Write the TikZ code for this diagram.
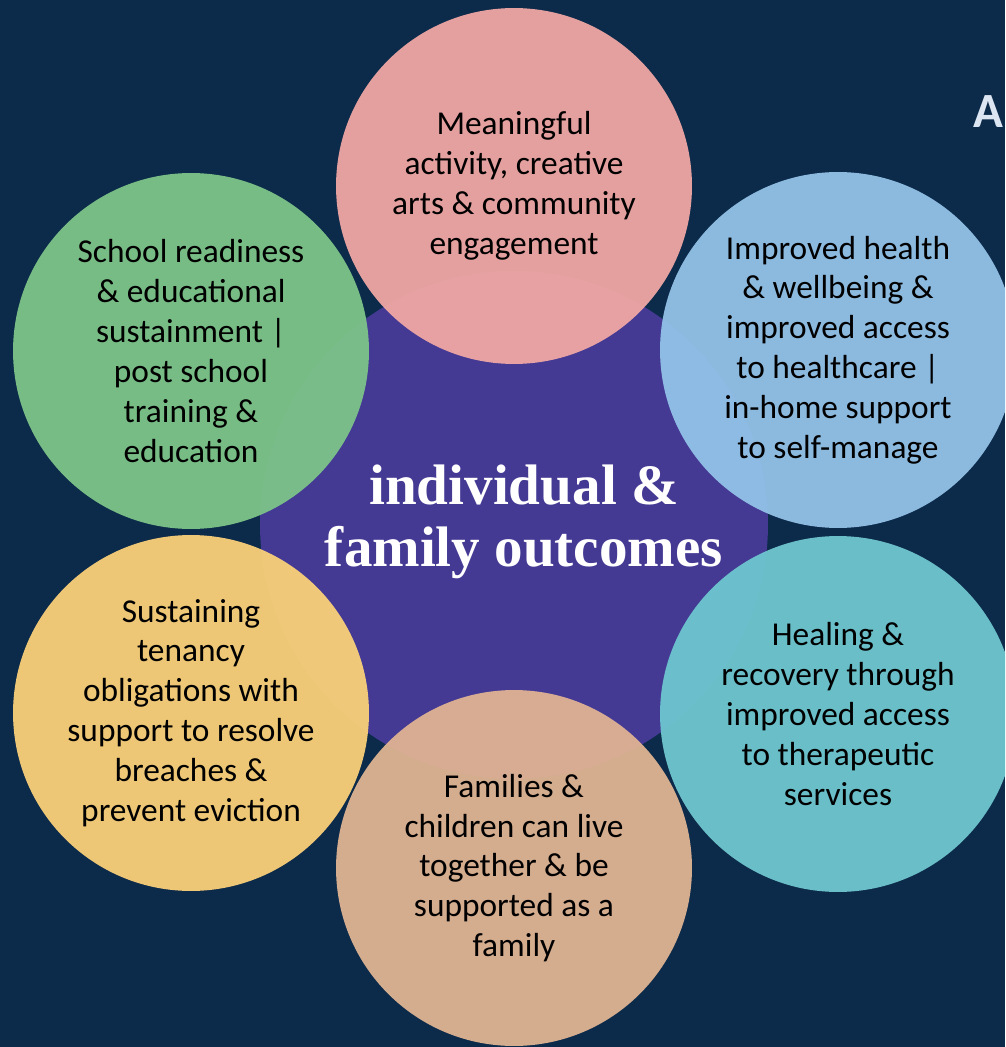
\documentclass[tikz,border=0pt]{standalone}
\usepackage{fontspec}
\setmainfont{Carlito}
\newfontfamily\titlefont{Liberation Serif}
\definecolor{backdrop}{HTML}{0C2A4A}
\definecolor{corefill}{HTML}{443A94}
\definecolor{rosefill}{HTML}{F0A7A4}
\definecolor{skyfill}{HTML}{93C2E8}
\definecolor{aquafill}{HTML}{6EC6CF}
\definecolor{sandfill}{HTML}{DFB392}
\definecolor{goldfill}{HTML}{FAD079}
\definecolor{leaffill}{HTML}{7DC489}
\definecolor{letterfill}{HTML}{DCE6F2}
\begin{document}
\begin{tikzpicture}[x=0.02cm, y=-0.02cm,
    outcome/.style={circle, minimum size=7.12cm, inner sep=0pt, fill opacity=0.95, text opacity=1,
      align=center, text=black, font=\fontsize{19}{22.7}\selectfont}]
        \useasboundingbox (0,0) rectangle (1005,1047);
        \clip (0,0) rectangle (1005,1047);
        \fill[backdrop] (0,0) rectangle (1005,1047);
        \node[circle, fill=corefill, minimum size=10.16cm, inner sep=0pt] (core) at (514,525) {};
        \node[outcome, fill=rosefill] (activity) at (514,186) {Meaningful\\activity, creative\\arts \& community\\engagement};
        \node[outcome, fill=skyfill] (health) at (838,350) {Improved health\\\& wellbeing \&\\improved access\\to healthcare |\\in-home support\\to self-manage};
        \node[outcome, fill=aquafill] (healing) at (838,714) {Healing \&\\recovery through\\improved access\\to therapeutic\\services};
        \node[outcome, fill=sandfill] (families) at (514,868) {Families \&\\children can live\\together \& be\\supported as a\\family};
        \node[outcome, fill=goldfill] (tenancy) at (191,713) {Sustaining\\tenancy\\obligations with\\support to resolve\\breaches \&\\prevent eviction};
        \node[outcome, fill=leaffill] (school) at (191,351) {School readiness\\\& educational\\sustainment |\\post school\\training \&\\education};
        \node[text=white, align=center, font=\titlefont\bfseries\fontsize{32.5}{35}\selectfont] (title) at (524,522) {individual \&\\family outcomes};
        \node[anchor=base west, inner sep=0pt, text=letterfill, font=\bfseries\fontsize{28}{30}\selectfont] (heading) at (973,128) {A};
\end{tikzpicture}
\end{document}
